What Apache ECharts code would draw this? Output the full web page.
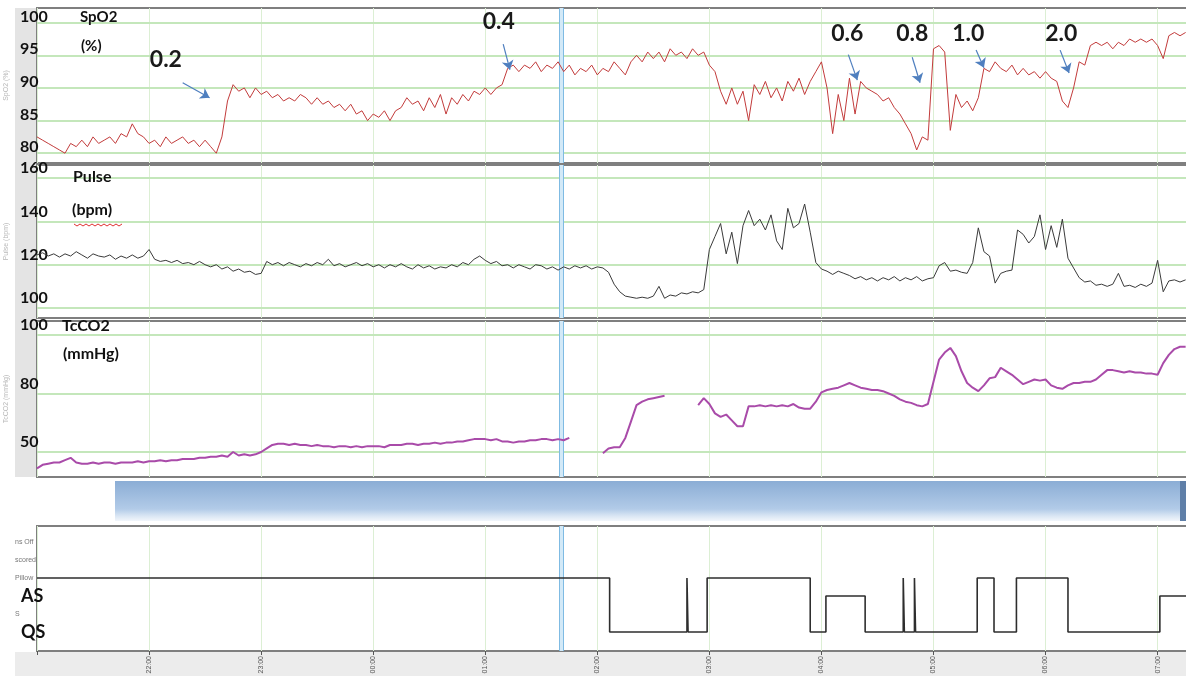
<!DOCTYPE html>
<html><head><meta charset="utf-8">
<script src="https://cdn.jsdelivr.net/npm/echarts@6/dist/echarts.min.js"></script>
<style>html,body{margin:0;padding:0;background:#fff}#c{width:1186px;height:681px}</style>
</head><body><div id="c"></div>
<script>
// ---- time base (hours; 24+ = next day) ----
const tStart = 21, tStep = 0.05;
const hourTickValues = [22, 23, 24, 25, 26, 27, 28, 29, 30, 31];
const hourLabels = ['22:00','23:00','00:00','01:00','02:00','03:00','04:00','05:00','06:00','07:00'];

// ---- SpO2 (%) ----
const spo2 = [82.5,82,81.5,81,80.5,80,81.5,81,82,81,
82.5,81.5,82,82.5,81.5,83,82.5,84.5,83,82.5,
81.5,82,81,82.5,81.5,82,82.5,81.5,82,81,
82,81,80,82.5,88,90.5,89.5,90,88.5,90,
89,89.5,88.5,89,88,88.5,88,89,88.5,87.5,
88.5,87.5,88,87,87.5,86.5,87.5,86,86.5,85,
86,85.5,86.5,85,86.5,87,88.5,87.5,88,86.5,
88.5,87,89,86,88.5,87.5,89,88,89.5,89,
90,89,90,90.5,93,93.5,92.5,93.5,93,94,
92.5,93.5,93,94,92.5,93.5,92,93,92.5,93.5,
92,93,92.5,94,93,92,94,95,94,95.5,
94.5,95.5,94,96,95,95.5,94.5,96,95,95.5,
93.5,92.5,89.5,87.5,90,87.5,89.5,85,90.5,89,
91,88.5,90,88,91,89.5,91.5,89,91,92.5,
94,90,83,89,85,91.5,86,91,90,89.5,
89,88,88.5,87,86,84.5,83,80.5,82.5,82,
96,96.5,95.5,83.5,89,87,88,86.5,88.5,93,
92.5,94,93,92.5,93.5,92,93,92,92.5,91.5,
92.5,91.5,91,88,87,90,94,93.5,96.5,97,
96.5,97,96,97,96.5,97.5,97,97.5,97,97.5,
96.5,94.5,98,98.5,98,98.5];
const spo2Ticks = [100, 95, 90, 85, 80];

// ---- Pulse (bpm) ----
const pulse = [124.5,125.5,124,125,123.5,125,124,126,124.5,123,
125,124,123.5,124.5,122.5,124,123,124.5,123,124,
127,122.5,121.5,122,121,122,120.5,121,120,121.5,
120,119,120,118,119,117,118,116.5,117,115.5,
116,121.5,120,121,119.5,121,120,119,120.5,119.5,
121,120,122.5,119.5,120.5,119,120,121,119.5,120.5,
119,120,118.5,120,119,120.5,119,118,120,118.5,
119.5,118,119,118.5,120,119,121,120,122.5,124,
122,120.5,121.5,119.5,120,118.5,120,119,118,120,
119.5,118,119,117.5,119,118,119.5,118.5,119.5,118,
119,118.5,116.5,111,107.5,105.5,105,104.5,105,104.5,
105.5,110,104.5,106,105.5,107,106.5,107.5,107,108.5,
127,133,139,125,135,120.5,138,145,138,141,
136,143,131,127,146,137,139,148,135,121,
118,117,115.5,117,116,115,113.5,114.5,113,114,
112.5,114,113,114.5,112.5,114,113,114.5,112.5,113.5,
114,119.5,121,117,117.5,116.5,116,121,137,126,
124,111.5,116,117,117.5,136,134,130,133,143,
127,138,128,141,123,118.5,114,112,112.5,110.5,
111,110,111,116,110,110.5,109.5,111,110,111.5,
122,107.5,112.5,113,112,113];
const pulseTicks = [160, 140, 120, 100];

// ---- TcCO2 (mmHg) ----
const tcco2 = [43,44.5,45,45.5,45.5,46.5,47.5,45.5,45,45,
45.5,45,45.5,45.5,45,45.5,45.5,45.5,46,45.5,
46,46,46.5,46,46.5,46.5,47,47,47,47.5,
47.5,48,48,48.5,48,50,48.5,49,48.5,49,
50,51.5,53,53.5,53.5,53,53.5,53,53,52.5,
53,52.5,52.5,52,52.5,52.5,52,52.5,52,52.5,
52.5,52.5,52,53,53,53,53.5,53.5,53,53.5,
53.5,54,53.5,54,54,54.5,54.5,55,55.5,55.5,
55.5,55,55.5,54.5,54.5,54,54.5,54.5,55,55,
55.5,55.5,55,55.5,55,56,null,null,null,null,
null,49.5,51.5,52,52,56,63,70,71.5,72.5,
73,73.5,74,null,null,null,null,null,70,73,
70.5,66.5,65,66,63.5,61,61,69.5,69.5,70,
69.5,70,69.5,70,69.5,70.5,69,68.5,68.5,71.5,
75.5,76.5,77,77.5,78.5,79.5,78.5,77.5,77,76.5,
76.5,76,75,74,72.5,71.5,71,70,69.5,70.5,
80,89.5,92.5,94.5,91,84.5,79.5,77.5,76,78.5,
81.5,82,86,84.5,83,81,79,80,81,80.5,
81,78.5,77.5,77,78.5,79.5,79.5,80,80,81,
83,85,85,84.5,84,84.5,84,84,83.5,83.5,
83,88,91.5,94,95,95];
const tcTickValues = [100, 75, 50];
const tcTickLabels = ['100', '80', '50'];

// ---- Sleep state (hypnogram) ----
const hypnoTimes  = [21.0, 26.11, 26.80, 26.81, 26.98, 27.90, 28.04, 28.39, 28.73, 28.74, 28.83, 28.84, 29.39, 29.54, 29.74, 30.20, 31.02, 31.28];
const hypnoLevels = [2, 5, 2, 5, 2, 5, 3, 5, 2, 5, 2, 5, 2, 5, 2, 5, 3, 3];
const hypnoLabels = ['ns Off', 'scored', 'Pillow', 'AS', 'S', 'QS'];
const hypnoLabelLevels = [0, 1, 2, 3, 4, 5];
const hypnoBoldLevels = [3, 5];

// ---- O2 flow annotations (L/min) ----
const o2Labels = ['0.2', '0.4', '0.6', '0.8', '1.0', '2.0'];
const o2LabelAt = [[22.15, 94.3], [25.12, 100.1], [28.23, 98.3], [28.81, 98.3], [29.31, 98.3], [30.14, 98.3]];
const o2ArrowFrom = [[22.30, 90.8], [25.16, 96.7], [28.24, 95.1], [28.81, 94.7], [29.38, 95.8], [30.13, 95.8]];
const o2ArrowTo   = [[22.54, 88.5], [25.22, 92.8], [28.32, 91.2], [28.88, 90.8], [29.45, 93.1], [30.21, 92.3]];

const cursorTime = 25.68;

// ---- build ----
const toPairs = arr => arr.map((v, i) => [tStart + i * tStep, v]);
const grids = [
  {top: 8, height: 155}, {top: 165, height: 153}, {top: 321, height: 156}, {top: 526, height: 125}
].map(g => Object.assign({left: 37, right: -3, show: true, backgroundColor: '#fff',
  borderColor: '#7f7f7f', borderWidth: 2, outerBoundsMode: 'none', containLabel: false}, g));

function xAx(gi, bottom) {
  return {
    type: 'value', gridIndex: gi, min: 21, max: 31.28, interval: 1, position: 'bottom',
    axisLine: {show: false, onZero: false},
    axisTick: {show: bottom, length: 4, lineStyle: {color: '#555'}},
    axisLabel: {show: bottom, customValues: hourTickValues, rotate: 90, fontSize: 7, color: '#555', margin: 5,
      formatter: v => hourLabels[hourTickValues.indexOf(v)] || ''},
    splitLine: {show: true, lineStyle: {color: '#dcefd4', width: 1}}
  };
}
function yAx(gi, min, max, ticks, labels, lh, name) {
  return {
    type: 'value', gridIndex: gi, min, max,
    splitLine: {show: false}, axisLine: {show: false}, axisTick: {show: false},
    axisLabel: {customValues: ticks, fontSize: 16, fontWeight: 'bold', fontFamily: 'Lato', color: '#111',
      align: 'left', margin: 17, verticalAlign: 'bottom', lineHeight: lh,
      formatter: v => labels[ticks.indexOf(v)]},
    name, nameLocation: 'middle', nameRotate: 90, nameGap: 12,
    nameTextStyle: {color: '#b8b8b8', fontSize: 7}
  };
}
const gridLineStyle = {color: '#c4e7bb', width: 2, type: 'solid'};
const cursorLines = [
  {xAxis: cursorTime, lineStyle: {color: '#d3e9f7', width: 5, type: 'solid'}},
  {xAxis: cursorTime - 0.022, lineStyle: {color: '#7fbbe3', width: 1, type: 'solid'}},
  {xAxis: cursorTime + 0.022, lineStyle: {color: '#7fbbe3', width: 1, type: 'solid'}}
];
function marks(ticks) {
  return {silent: true, symbol: ['none', 'none'], z: 1, animation: false, label: {show: false},
    data: ticks.map(v => ({yAxis: v, lineStyle: gridLineStyle})).concat(cursorLines)};
}

const series = [
  {type: 'line', name: 'SpO2', xAxisIndex: 0, yAxisIndex: 0, data: toPairs(spo2), showSymbol: false,
    lineStyle: {color: '#c23b3b', width: 1}, z: 3, markLine: marks(spo2Ticks)},
  {type: 'line', name: 'Pulse', xAxisIndex: 1, yAxisIndex: 1, data: toPairs(pulse), showSymbol: false,
    lineStyle: {color: '#3a3a3a', width: 1}, z: 3, markLine: marks(pulseTicks)},
  {type: 'line', name: 'TcCO2', xAxisIndex: 2, yAxisIndex: 2, data: toPairs(tcco2), showSymbol: false, connectNulls: false,
    lineStyle: {color: '#a94ba9', width: 2}, z: 3, markLine: marks(tcTickValues)},
  {type: 'line', name: 'State', xAxisIndex: 3, yAxisIndex: 3, step: 'end',
    data: hypnoTimes.map((t, i) => [t, hypnoLevels[i]]), showSymbol: false,
    lineStyle: {color: '#2e2e2e', width: 1.6}, z: 3, markLine: marks([])},
  {type: 'line', name: 'O2', xAxisIndex: 0, yAxisIndex: 0, data: [], z: 5,
    markLine: {silent: true, symbol: ['none', 'arrow'], symbolSize: 9, z: 6, animation: false,
      label: {show: false}, lineStyle: {color: '#4f7fbf', width: 1.2, type: 'solid'},
      itemStyle: {color: '#4f7fbf'},
      data: o2ArrowFrom.map((p, i) => [{coord: p}, {coord: o2ArrowTo[i]}])},
    markPoint: {silent: true, symbol: 'circle', symbolSize: 1, z: 6, animation: false,
      itemStyle: {color: 'rgba(0,0,0,0)'},
      label: {show: true, position: 'inside', formatter: p => p.name, fontSize: 23, fontWeight: 'bold',
        fontFamily: 'Lato', color: '#1a1a1a'},
      data: o2Labels.map((t, i) => ({name: t, coord: o2LabelAt[i]}))}}
];

const wavy = [];
for (let x = 74; x <= 124; x += 3) wavy.push([x, 224 + ((x - 74) / 3 % 2 ? 2 : 0)]);

const option = {
  backgroundColor: '#fff',
  animation: false,
  grid: grids,
  xAxis: [xAx(0, false), xAx(1, false), xAx(2, false), xAx(3, true)],
  yAxis: [
    yAx(0, 78.5, 102.25, spo2Ticks, spo2Ticks.map(String), 12, 'SpO2 (%)'),
    yAx(1, 95.4, 166.0, pulseTicks, pulseTicks.map(String), 20, 'Pulse (bpm)'),
    yAx(2, 39.3, 106.0, tcTickValues, tcTickLabels, 20, 'TcCO2 (mmHg)'),
    {type: 'value', gridIndex: 3, inverse: true, min: -0.89, max: 6.06,
      splitLine: {show: false}, axisLine: {show: false}, axisTick: {show: false},
      axisLabel: {customValues: hypnoLabelLevels, align: 'left', margin: 22, fontSize: 7, color: '#777',
        formatter: v => (hypnoBoldLevels.indexOf(v) >= 0 ? '{b|' : '{s|') + hypnoLabels[v] + '}',
        rich: {
          s: {fontSize: 7, color: '#777'},
          b: {fontSize: 18, fontWeight: 'bold', fontFamily: 'Lato', color: '#111', padding: [0, 0, 0, 6]}
        }}}
  ],
  series,
  graphic: [
    {type: 'rect', z: -10, shape: {x: 15, y: 8, width: 22, height: 469}, style: {fill: '#e4e4e4'}},
    {type: 'rect', z: -10, shape: {x: 15, y: 652, width: 1171, height: 24}, style: {fill: '#ececec'}},
    {type: 'rect', z: 1, shape: {x: 115, y: 481, width: 1071, height: 40},
      style: {fill: new echarts.graphic.LinearGradient(0, 0, 0, 1, [
        {offset: 0, color: '#8badd5'}, {offset: 0.7, color: '#b2cbe8'},
        {offset: 0.88, color: '#dbe7f4'}, {offset: 1, color: '#f2f6fb'}])}},
    {type: 'rect', z: 2, shape: {x: 1180, y: 481, width: 6, height: 40}, style: {fill: '#5f7fa8'}},
    {type: 'text', z: 100, left: 80, top: 10, style: {text: 'SpO2', fontSize: 15, fontWeight: 'bold', fontFamily: 'Lato', fill: '#111'}},
    {type: 'text', z: 100, left: 81, top: 39, style: {text: '(%)', fontSize: 15, fontWeight: 'bold', fontFamily: 'Lato', fill: '#111'}},
    {type: 'text', z: 100, left: 73, top: 169, style: {text: 'Pulse', fontSize: 16, fontWeight: 'bold', fontFamily: 'Lato', fill: '#111'}},
    {type: 'text', z: 100, left: 72, top: 202, style: {text: '(bpm)', fontSize: 16, fontWeight: 'bold', fontFamily: 'Lato', fill: '#111'}},
    {type: 'polyline', z: 100, shape: {points: wavy}, style: {stroke: '#e03030', lineWidth: 1, fill: null}},
    {type: 'text', z: 100, left: 62, top: 318, style: {text: 'TcCO2', fontSize: 16, fontWeight: 'bold', fontFamily: 'Lato', fill: '#111'}},
    {type: 'text', z: 100, left: 63, top: 346, style: {text: '(mmHg)', fontSize: 16, fontWeight: 'bold', fontFamily: 'Lato', fill: '#111'}}
  ]
};
const chart = echarts.init(document.getElementById('c'), null, {renderer: 'canvas'});
chart.setOption(option);
</script>
</body></html>
